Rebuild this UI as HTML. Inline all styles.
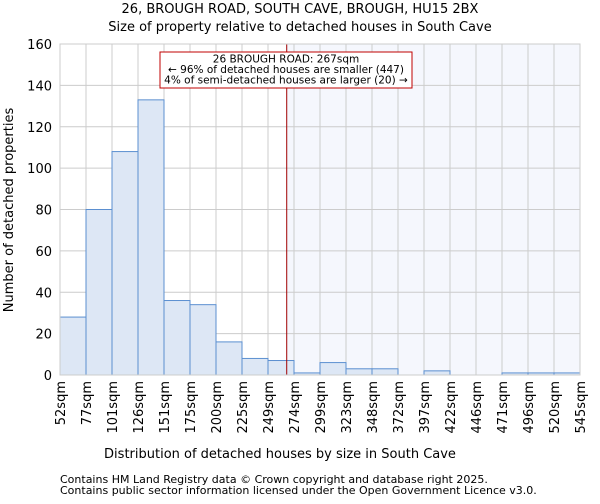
<!DOCTYPE html>
<html><head><meta charset="utf-8"><style>
body{margin:0;background:#fff;font-family:"DejaVu Sans","Liberation Sans",sans-serif;}
</style></head><body>
<svg id="c" width="600" height="500" xmlns="http://www.w3.org/2000/svg" font-family="DejaVu Sans, Liberation Sans, sans-serif">
<text x="300" y="13" text-anchor="middle" font-size="13" fill="#000">26, BROUGH ROAD, SOUTH CAVE, BROUGH, HU15 2BX</text>
<text x="300" y="31" text-anchor="middle" font-size="13" fill="#000">Size of property relative to detached houses in South Cave</text>
<g id="plot"></g>
<text x="280" y="458" text-anchor="middle" font-size="13">Distribution of detached houses by size in South Cave</text>
<text transform="translate(13,210) rotate(-90)" text-anchor="middle" font-size="13">Number of detached properties</text>
<text x="60" y="483" font-size="11">Contains HM Land Registry data © Crown copyright and database right 2025.</text>
<text x="60" y="494" font-size="11">Contains public sector information licensed under the Open Government Licence v3.0.</text>
</svg>
<script>
const edges=[52,77,101,126,151,175,200,225,249,274,299,323,348,372,397,422,446,471,496,520,545];
const counts=[28,80,108,133,36,34,16,8,7,1,6,3,3,0,2,0,0,1,1,1];
const yTicks=[0,20,40,60,80,100,120,140,160];
const propertySize=267;
const NS="http://www.w3.org/2000/svg";
const L=60,R=580,T=44,B=375,YMAX=160;
const nb=counts.length;
const xb=i=>L+(R-L)*i/nb;
const xv=v=>{for(let i=0;i<nb;i++){if(v<=edges[i+1])return xb(i)+(v-edges[i])/(edges[i+1]-edges[i])*(R-L)/nb;}return R;};
const y=v=>B-(B-T)*v/YMAX;
const g=document.getElementById('plot');
function mk(t,a){const e=document.createElementNS(NS,t);for(const k in a)e.setAttribute(k,a[k]);g.appendChild(e);return e;}
const px=xv(propertySize);
let e=mk('rect',{x:px,y:T,width:R-px,height:B-T,fill:'#f5f7fd'});


yTicks.forEach(t=>{
 let l=mk('line',{x1:L,x2:R,y1:y(t),y2:y(t),stroke:'#cccccc','stroke-width':1});
 
 
 let tx=mk('text',{x:L-8,y:y(t)+5,'text-anchor':'end','font-size':13});
 tx.textContent=t;
 
 
});
edges.forEach((v,i)=>{
 let l=mk('line',{x1:xb(i),x2:xb(i),y1:T,y2:B,stroke:'#cccccc','stroke-width':1});
 
 
 let tx=mk('text',{transform:`translate(${xb(i)+5},${B+6}) rotate(-90)`,'text-anchor':'end','font-size':13});
 tx.textContent=v+'sqm';
 
 
});
counts.forEach((c,i)=>{
 if(c<=0)return;
 let r=mk('rect',{x:xb(i),y:y(c),width:(R-L)/nb,height:B-y(c),fill:'#dde7f5',stroke:'#5b8fd0','stroke-width':1});
 
 
});
e=mk('line',{x1:px,x2:px,y1:T,y2:B,stroke:'#a00000','stroke-width':1});


e=mk('rect',{x:L,y:T,width:R-L,height:B-T,fill:'none',stroke:'#cccccc'});


e=mk('rect',{x:160,y:52,width:252,height:36,fill:'#fff',stroke:'#c00000','stroke-width':1});


['26 BROUGH ROAD: 267sqm','← 96% of detached houses are smaller (447)','4% of semi-detached houses are larger (20) →'].forEach((s,i)=>{
 let t=mk('text',{x:286,y:62.5+i*10.5,'text-anchor':'middle','font-size':10.5});
 t.textContent=s;
 
 
});
</script>
</body></html>
